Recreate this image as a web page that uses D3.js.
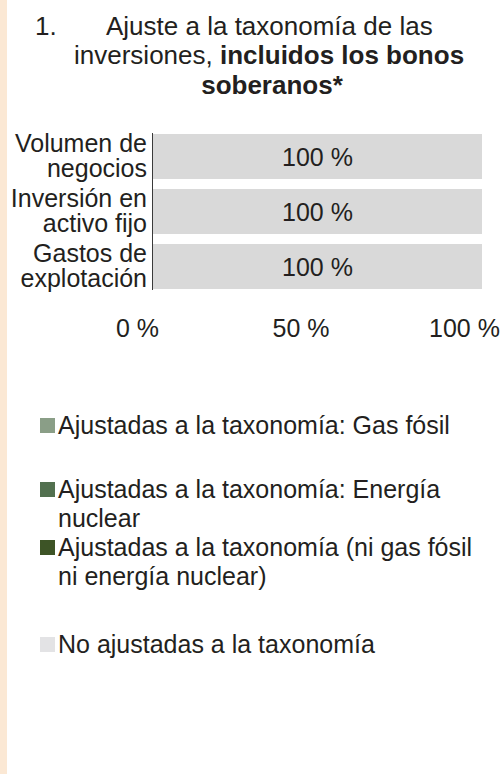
<!DOCTYPE html>
<html>
<head>
<meta charset="utf-8">
<script src="https://cdn.jsdelivr.net/npm/d3@7"></script>
<style>
  html, body { margin: 0; padding: 0; background: #fff; }
  svg { display: block; font-family: "Liberation Sans", Arial, sans-serif; }
</style>
</head>
<body>
<svg></svg>
<script>
// categories (two lines each) and series values, in %
var categories = ["Volumen de negocios", "Inversión en activo fijo", "Gastos de explotación"];
var categoryLines = [["Volumen de", "negocios"], ["Inversión en", "activo fijo"], ["Gastos de", "explotación"]];
var gasFosil = [0, 0, 0];
var nuclear = [0, 0, 0];
var otras = [0, 0, 0];
var noAjustadas = [100, 100, 100];
var xTicks = [0, 50, 100];

var seriesKeys = ["gas", "nuclear", "otras", "no"];
var seriesColors = ["#8a9e87", "#52704f", "#3d5426", "#d9d9d9"];
var legendSwatch = ["#8a9e87", "#52704f", "#3d5426", "#e3e3e5"];
var legendLines = [
  ["Ajustadas a la taxonomía: Gas fósil"],
  ["Ajustadas a la taxonomía: Energía", "nuclear"],
  ["Ajustadas a la taxonomía (ni gas fósil", "ni energía nuclear)"],
  ["No ajustadas a la taxonomía"]
];
var legendY = [434, 498, 556, 653];

var width = 503,
  height = 774,
  textColor = "#231f20";

var svg = d3.select("svg")
  .attr("width", width)
  .attr("height", height);

// beige strip at left edge
svg.append("rect")
  .attr("x", 0).attr("y", 0)
  .attr("width", 7).attr("height", height)
  .attr("fill", "#fbe8d4");

// title
var title = svg.append("g").attr("fill", textColor).attr("font-size", 26);
title.append("text").attr("x", 35).attr("y", 35).text("1.");
title.append("text").attr("x", 106).attr("y", 35).text("Ajuste a la taxonomía de las");
var t2 = title.append("text").attr("x", 74).attr("y", 64);
t2.append("tspan").text("inversiones, ");
t2.append("tspan").attr("font-weight", "bold").text("incluidos los bonos");
title.append("text").attr("x", 272).attr("y", 94)
  .attr("text-anchor", "middle").attr("font-weight", "bold").text("soberanos*");

// data table for the stack
var table = categories.map((c, i) => ({
  cat: c, gas: gasFosil[i], nuclear: nuclear[i], otras: otras[i], no: noAjustadas[i]
}));
var stacked = d3.stack().keys(seriesKeys)(table);

var x = d3.scaleLinear().domain([0, 100]).range([153, 482]);
var y = d3.scaleBand().domain(categories).range([129, 294])
  .paddingInner(10 / 55).paddingOuter(5 / 55);

var layers = svg.selectAll(".layer").data(stacked)
  .join("g")
  .attr("class", "layer")
  .attr("fill", (d, i) => seriesColors[i]);

layers.selectAll("rect")
  .data(d => d)
  .join("rect")
  .attr("x", d => x(d[0]))
  .attr("y", d => y(d.data.cat))
  .attr("width", d => x(d[1]) - x(d[0]))
  .attr("height", y.bandwidth());

// value labels (only for non-zero segments)
layers.selectAll("text")
  .data(d => d.filter(s => s[1] - s[0] > 0))
  .join("text")
  .attr("x", d => (x(d[0]) + x(d[1])) / 2)
  .attr("y", d => y(d.data.cat) + y.bandwidth() / 2 + 9)
  .attr("text-anchor", "middle")
  .attr("font-size", 25)
  .attr("fill", textColor)
  .text(d => (d[1] - d[0]) + " %");

// y axis line
svg.append("line")
  .attr("x1", 152.5).attr("x2", 152.5)
  .attr("y1", 133).attr("y2", 290)
  .attr("stroke", "#3a3a3a").attr("stroke-width", 1);

// category labels
var catLabels = svg.selectAll(".cat").data(categories)
  .join("text")
  .attr("class", "cat")
  .attr("text-anchor", "end")
  .attr("font-size", 25)
  .attr("fill", textColor);
catLabels.selectAll("tspan")
  .data((d, i) => categoryLines[i].map((t, j) => ({ t: t, j: j, cat: d })))
  .join("tspan")
  .attr("x", 147)
  .attr("y", d => y(d.cat) + y.bandwidth() - 27 + d.j * 25)
  .text(d => d.t);

// x axis tick labels (no axis line)
var xLab = d3.scaleLinear().domain([0, 100]).range([137, 464]);
var xAxis = svg.append("g")
  .attr("transform", "translate(0,337)")
  .call(d3.axisBottom(xLab).tickValues(xTicks).tickSize(0).tickPadding(0).tickFormat(d => d + " %"));
xAxis.select(".domain").remove();
xAxis.selectAll("text")
  .attr("dy", null)
  .attr("font-size", 25)
  .attr("font-family", "'Liberation Sans', Arial, sans-serif")
  .attr("fill", textColor);

// legend
var legend = svg.selectAll(".leg").data(legendLines)
  .join("g")
  .attr("class", "leg")
  .attr("transform", (d, i) => "translate(0," + legendY[i] + ")");
legend.append("rect")
  .attr("x", 40).attr("y", -16)
  .attr("width", 15).attr("height", 15)
  .attr("fill", (d, i) => legendSwatch[i]);
legend.append("text")
  .attr("font-size", 25)
  .attr("fill", textColor)
  .selectAll("tspan")
  .data(d => d)
  .join("tspan")
  .attr("x", 58)
  .attr("y", (d, j) => j * 29)
  .text(d => d);
</script>
</body>
</html>
